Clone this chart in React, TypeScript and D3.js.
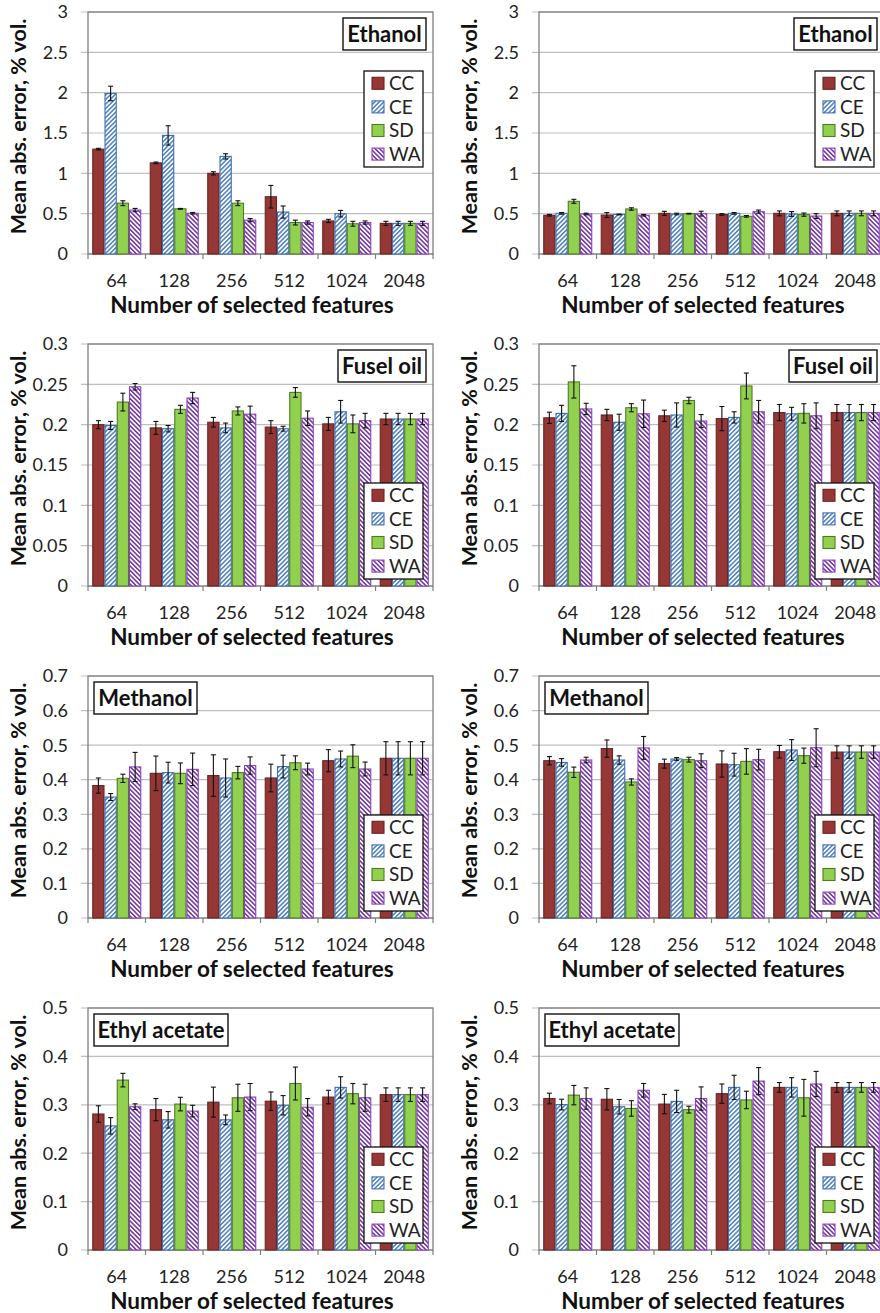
import React from 'react';
import * as d3 from 'd3';

// ---------- Data ----------
const categories = ['64', '128', '256', '512', '1024', '2048'];
const seriesNames = ['CC', 'CE', 'SD', 'WA'];

// Ethanol (left) — rows: CC, CE, SD, WA
const ethanolLeftMean = [
  [1.30, 1.13, 1.00, 0.71, 0.41, 0.38],
  [1.99, 1.47, 1.21, 0.52, 0.50, 0.38],
  [0.63, 0.56, 0.63, 0.39, 0.375, 0.38],
  [0.545, 0.505, 0.42, 0.39, 0.39, 0.38],
];
const ethanolLeftErr = [
  [0.01, 0.01, 0.02, 0.14, 0.02, 0.025],
  [0.09, 0.12, 0.033, 0.075, 0.04, 0.025],
  [0.03, 0.005, 0.03, 0.03, 0.03, 0.025],
  [0.02, 0.01, 0.02, 0.02, 0.02, 0.025],
];
// Ethanol (right)
const ethanolRightMean = [
  [0.48, 0.483, 0.504, 0.49, 0.504, 0.504],
  [0.504, 0.49, 0.496, 0.504, 0.496, 0.504],
  [0.653, 0.558, 0.50, 0.467, 0.488, 0.504],
  [0.496, 0.48, 0.50, 0.525, 0.47, 0.504],
];
const ethanolRightErr = [
  [0.01, 0.03, 0.025, 0.01, 0.03, 0.03],
  [0.01, 0.005, 0.01, 0.01, 0.03, 0.03],
  [0.025, 0.015, 0.005, 0.01, 0.02, 0.03],
  [0.01, 0.01, 0.03, 0.02, 0.03, 0.03],
];
// Fusel oil (left)
const fuselLeftMean = [
  [0.200, 0.196, 0.203, 0.197, 0.201, 0.207],
  [0.199, 0.195, 0.196, 0.195, 0.216, 0.207],
  [0.228, 0.219, 0.217, 0.240, 0.201, 0.207],
  [0.247, 0.233, 0.213, 0.208, 0.205, 0.207],
];
const fuselLeftErr = [
  [0.005, 0.008, 0.006, 0.008, 0.008, 0.007],
  [0.005, 0.004, 0.006, 0.003, 0.014, 0.007],
  [0.011, 0.005, 0.005, 0.006, 0.011, 0.007],
  [0.004, 0.007, 0.01, 0.009, 0.009, 0.007],
];
// Fusel oil (right)
const fuselRightMean = [
  [0.2085, 0.212, 0.211, 0.2075, 0.215, 0.215],
  [0.214, 0.203, 0.212, 0.209, 0.2135, 0.215],
  [0.253, 0.221, 0.230, 0.248, 0.214, 0.215],
  [0.2195, 0.2135, 0.2045, 0.216, 0.211, 0.215],
];
const fuselRightErr = [
  [0.007, 0.007, 0.007, 0.015, 0.01, 0.01],
  [0.01, 0.01, 0.015, 0.007, 0.008, 0.01],
  [0.02, 0.005, 0.004, 0.016, 0.012, 0.01],
  [0.007, 0.017, 0.008, 0.014, 0.016, 0.01],
];
// Methanol (left)
const methanolLeftMean = [
  [0.383, 0.4185, 0.412, 0.405, 0.455, 0.462],
  [0.350, 0.4205, 0.405, 0.438, 0.46, 0.462],
  [0.404, 0.4185, 0.4205, 0.449, 0.468, 0.462],
  [0.437, 0.430, 0.441, 0.431, 0.431, 0.462],
];
const methanolLeftErr = [
  [0.022, 0.05, 0.06, 0.04, 0.032, 0.048],
  [0.01, 0.03, 0.055, 0.033, 0.023, 0.048],
  [0.012, 0.03, 0.018, 0.02, 0.033, 0.048],
  [0.042, 0.047, 0.025, 0.017, 0.02, 0.048],
];
// Methanol (right)
const methanolRightMean = [
  [0.455, 0.49, 0.4465, 0.4455, 0.481, 0.48],
  [0.450, 0.457, 0.46, 0.4435, 0.486, 0.48],
  [0.4215, 0.3935, 0.458, 0.453, 0.4695, 0.48],
  [0.457, 0.492, 0.455, 0.458, 0.4925, 0.48],
];
const methanolRightErr = [
  [0.012, 0.025, 0.013, 0.038, 0.018, 0.018],
  [0.011, 0.012, 0.004, 0.033, 0.03, 0.018],
  [0.015, 0.009, 0.007, 0.037, 0.022, 0.018],
  [0.008, 0.033, 0.02, 0.03, 0.055, 0.018],
];
// Ethyl acetate (left)
const ethylLeftMean = [
  [0.281, 0.290, 0.3055, 0.3075, 0.316, 0.321],
  [0.2565, 0.269, 0.269, 0.299, 0.336, 0.321],
  [0.351, 0.3015, 0.3145, 0.344, 0.323, 0.321],
  [0.296, 0.287, 0.316, 0.295, 0.3145, 0.321],
];
const ethylLeftErr = [
  [0.017, 0.023, 0.031, 0.019, 0.014, 0.014],
  [0.017, 0.017, 0.01, 0.02, 0.022, 0.014],
  [0.014, 0.014, 0.028, 0.034, 0.021, 0.014],
  [0.006, 0.012, 0.028, 0.018, 0.028, 0.014],
];
// Ethyl acetate (right)
const ethylRightMean = [
  [0.313, 0.3115, 0.3015, 0.323, 0.336, 0.336],
  [0.3005, 0.296, 0.307, 0.336, 0.336, 0.336],
  [0.320, 0.2925, 0.290, 0.310, 0.3145, 0.336],
  [0.313, 0.330, 0.313, 0.349, 0.343, 0.336],
];
const ethylRightErr = [
  [0.011, 0.022, 0.02, 0.02, 0.01, 0.01],
  [0.011, 0.015, 0.023, 0.025, 0.02, 0.01],
  [0.02, 0.016, 0.007, 0.018, 0.038, 0.01],
  [0.022, 0.014, 0.024, 0.028, 0.026, 0.01],
];

const ethanolTicks = [0, 0.5, 1, 1.5, 2, 2.5, 3];
const ethanolTickLabels = ['0', '0.5', '1', '1.5', '2', '2.5', '3'];
const fuselTicks = [0, 0.05, 0.1, 0.15, 0.2, 0.25, 0.3];
const fuselTickLabels = ['0', '0.05', '0.1', '0.15', '0.2', '0.25', '0.3'];
const methanolTicks = [0, 0.1, 0.2, 0.3, 0.4, 0.5, 0.6, 0.7];
const methanolTickLabels = ['0', '0.1', '0.2', '0.3', '0.4', '0.5', '0.6', '0.7'];
const ethylTicks = [0, 0.1, 0.2, 0.3, 0.4, 0.5];
const ethylTickLabels = ['0', '0.1', '0.2', '0.3', '0.4', '0.5'];

const yAxisTitle = 'Mean abs. error, % vol.';
const xAxisTitle = 'Number of selected features';

// ---------- Layout / style ----------
const FONT = "Lato, 'Open Sans', sans-serif";
const COL_X = [88, 539];
const ROW_Y = [12, 344, 676, 1008];
const PLOT_W = 345;
const PLOT_H = 242;

const FILLS = ['#953735', 'url(#pCE)', '#92D050', 'url(#pWA)'];
const STROKES = ['#6B2423', '#3E70B3', '#4F7A22', '#8A3FC4'];

type PanelCfg = {
  name: string;
  mean: number[][];
  err: number[][];
  ticks: number[];
  tickLabels: string[];
  col: number;
  row: number;
  titleSide: 'left' | 'right';
  titleW: number;
  legendTop: number;
};

const panels: PanelCfg[] = [
  { name: 'Ethanol', mean: ethanolLeftMean, err: ethanolLeftErr, ticks: ethanolTicks, tickLabels: ethanolTickLabels, col: 0, row: 0, titleSide: 'right', titleW: 83, legendTop: 59 },
  { name: 'Ethanol', mean: ethanolRightMean, err: ethanolRightErr, ticks: ethanolTicks, tickLabels: ethanolTickLabels, col: 1, row: 0, titleSide: 'right', titleW: 83, legendTop: 59 },
  { name: 'Fusel oil', mean: fuselLeftMean, err: fuselLeftErr, ticks: fuselTicks, tickLabels: fuselTickLabels, col: 0, row: 1, titleSide: 'right', titleW: 88, legendTop: 139 },
  { name: 'Fusel oil', mean: fuselRightMean, err: fuselRightErr, ticks: fuselTicks, tickLabels: fuselTickLabels, col: 1, row: 1, titleSide: 'right', titleW: 88, legendTop: 139 },
  { name: 'Methanol', mean: methanolLeftMean, err: methanolLeftErr, ticks: methanolTicks, tickLabels: methanolTickLabels, col: 0, row: 2, titleSide: 'left', titleW: 103, legendTop: 139 },
  { name: 'Methanol', mean: methanolRightMean, err: methanolRightErr, ticks: methanolTicks, tickLabels: methanolTickLabels, col: 1, row: 2, titleSide: 'left', titleW: 103, legendTop: 139 },
  { name: 'Ethyl acetate', mean: ethylLeftMean, err: ethylLeftErr, ticks: ethylTicks, tickLabels: ethylTickLabels, col: 0, row: 3, titleSide: 'left', titleW: 134, legendTop: 139 },
  { name: 'Ethyl acetate', mean: ethylRightMean, err: ethylRightErr, ticks: ethylTicks, tickLabels: ethylTickLabels, col: 1, row: 3, titleSide: 'left', titleW: 134, legendTop: 139 },
];

function Panel({ cfg }: { cfg: PanelCfg }) {
  const left = COL_X[cfg.col];
  const top = ROW_Y[cfg.row];
  const yMax = cfg.ticks[cfg.ticks.length - 1];
  const x0 = d3.scaleBand<string>().domain(categories).range([0, PLOT_W]);
  const x1 = d3
    .scaleBand<string>()
    .domain(seriesNames)
    .range([0, x0.bandwidth()])
    .paddingInner(0)
    .paddingOuter(0.347);
  const y = d3.scaleLinear().domain([0, yMax]).range([PLOT_H, 0]);
  const bw = x1.bandwidth();

  const titleX = cfg.titleSide === 'right' ? PLOT_W - 7 - cfg.titleW : 6;
  const legX = 276;
  const legY = cfg.legendTop;

  return (
    <g transform={`translate(${left},${top})`} fontFamily={FONT}>
      {/* gridlines + left ticks */}
      {cfg.ticks.map((t, i) => (
        <line key={'g' + i} x1={-7} x2={PLOT_W} y1={y(t)} y2={y(t)} stroke="#BFBFBF" strokeWidth={1.2} />
      ))}
      {/* y tick labels */}
      {cfg.ticks.map((t, i) => (
        <text key={'yl' + i} x={-20} y={y(t)} dy="0.36em" textAnchor="end" fontSize={18} fill="#222">
          {cfg.tickLabels[i]}
        </text>
      ))}
      {/* plot border */}
      <rect x={0} y={0} width={PLOT_W} height={PLOT_H} fill="none" stroke="#7F7F7F" strokeWidth={1.3} />
      {/* x-axis category boundary ticks */}
      {categories.map((c, i) => (
        <line key={'xt' + i} x1={x0(c)!} x2={x0(c)!} y1={PLOT_H} y2={PLOT_H + 5} stroke="#7F7F7F" strokeWidth={1.2} />
      ))}
      <line x1={PLOT_W} x2={PLOT_W} y1={PLOT_H} y2={PLOT_H + 5} stroke="#7F7F7F" strokeWidth={1.2} />
      {/* bars */}
      {seriesNames.map((s, si) =>
        categories.map((c, ci) => {
          const v = cfg.mean[si][ci];
          const bx = x0(c)! + x1(s)!;
          return (
            <rect
              key={s + c}
              x={bx + 0.5}
              y={y(v)}
              width={bw - 1}
              height={PLOT_H - y(v)}
              fill={FILLS[si]}
              stroke={STROKES[si]}
              strokeWidth={1.1}
            />
          );
        })
      )}
      {/* error bars */}
      {seriesNames.map((s, si) =>
        categories.map((c, ci) => {
          const v = cfg.mean[si][ci];
          const e = cfg.err[si][ci];
          const cx = x0(c)! + x1(s)! + bw / 2;
          const yt = y(v + e);
          const yb = y(v - e);
          return (
            <g key={'e' + s + c} stroke="#111" strokeWidth={1.1}>
              <line x1={cx} x2={cx} y1={yt} y2={yb} />
              <line x1={cx - 2.5} x2={cx + 2.5} y1={yt} y2={yt} />
              <line x1={cx - 2.5} x2={cx + 2.5} y1={yb} y2={yb} />
            </g>
          );
        })
      )}
      {/* x tick labels */}
      {categories.map((c, i) => (
        <text key={'xl' + i} x={x0(c)! + x0.bandwidth() / 2} y={PLOT_H + 33} textAnchor="middle" fontSize={18} fill="#222">
          {c}
        </text>
      ))}
      {/* axis titles */}
      <text x={164} y={PLOT_H + 59} textAnchor="middle" fontSize={22.5} fontWeight="bold" fill="#111">
        {xAxisTitle}
      </text>
      <text
        transform={`translate(${-70},${114.5}) rotate(-90)`}
        textAnchor="middle"
        dy="0.35em"
        fontSize={21.5}
        fontWeight="bold"
        fill="#111"
      >
        {yAxisTitle}
      </text>
      {/* title box */}
      <rect x={titleX} y={6} width={cfg.titleW} height={32} fill="#fff" stroke="#111" strokeWidth={1.4} />
      <text x={titleX + cfg.titleW / 2} y={22} dy="0.36em" textAnchor="middle" fontSize={22} fontWeight="bold" fill="#111">
        {cfg.name}
      </text>
      {/* legend */}
      <rect x={legX} y={legY} width={59} height={96} fill="#fff" stroke="#111" strokeWidth={1.3} />
      {seriesNames.map((s, si) => {
        const cy = legY + 12.3 + si * 23.6;
        return (
          <g key={'lg' + s}>
            <rect x={legX + 8} y={cy - 6} width={12} height={12} fill={FILLS[si]} stroke={STROKES[si]} strokeWidth={1.1} />
            <text x={legX + 25} y={cy} dy="0.36em" fontSize={19} fill="#222">
              {s}
            </text>
          </g>
        );
      })}
    </g>
  );
}

export default function App() {
  return (
    <svg
      width={880}
      height={1313}
      style={{ position: 'absolute', left: 0, top: 0, background: '#fff' }}
    >
      <defs>
        <pattern id="pCE" patternUnits="userSpaceOnUse" width={3.2} height={3.2} patternTransform="rotate(45)">
          <rect width={3.2} height={3.2} fill="#fff" />
          <rect width={1.5} height={3.2} fill="#4A7EC0" />
        </pattern>
        <pattern id="pWA" patternUnits="userSpaceOnUse" width={3.2} height={3.2} patternTransform="rotate(-45)">
          <rect width={3.2} height={3.2} fill="#fff" />
          <rect width={1.5} height={3.2} fill="#7030A0" />
        </pattern>
      </defs>
      <rect width={880} height={1313} fill="#fff" />
      {panels.map((p, i) => (
        <Panel key={i} cfg={p} />
      ))}
    </svg>
  );
}
